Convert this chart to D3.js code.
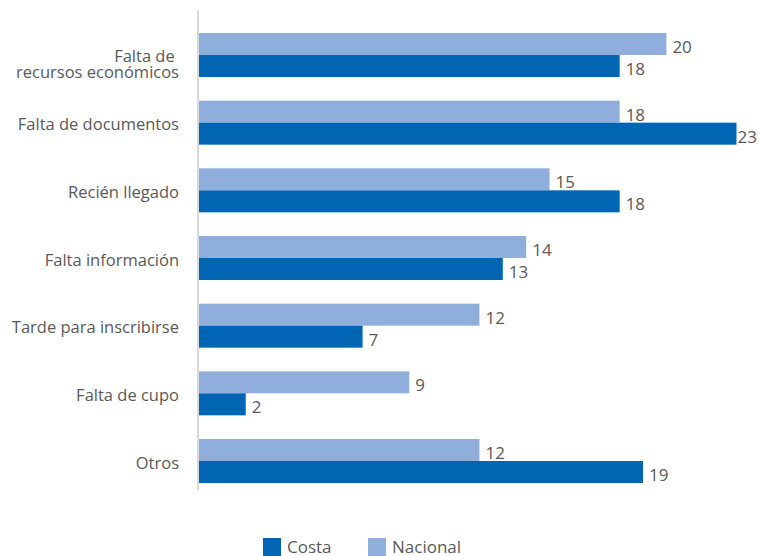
<!DOCTYPE html>
<html>
<head>
<meta charset="utf-8">
<script src="https://cdn.jsdelivr.net/npm/d3@7"></script>
<style>
  html, body { margin: 0; padding: 0; background: #ffffff; }
  svg { display: block; }
  text { font-family: "Open Sans", "Noto Sans", sans-serif; fill: #595959; }
</style>
</head>
<body>
<svg id="chart" width="761" height="556"></svg>
<script>
// Motivos de no inscripción (%), Costa vs Nacional
const categories = [
  ["Falta de ", "recursos económicos"],
  ["Falta de documentos"],
  ["Recién llegado"],
  ["Falta información"],
  ["Tarde para inscribirse"],
  ["Falta de cupo"],
  ["Otros"]
];
const nacional = [20, 18, 15, 14, 12, 9, 12];
const costa    = [18, 23, 18, 13, 7, 2, 19];
const seriesNames = ["Costa", "Nacional"];
const colors = { Costa: "#0066b3", Nacional: "#8faedb" };

const svg = d3.select("#chart");
const keys = categories.map((c, i) => i);

const x = d3.scaleLinear().domain([0, 23]).range([199, 736.5]);
const y = d3.scaleBand().domain(keys).range([33, 483]).paddingInner(0.35).paddingOuter(0);
const sub = d3.scaleBand().domain(["Nacional", "Costa"]).range([0, y.bandwidth()]);

const rows = keys.map(i => ({ i, Nacional: nacional[i], Costa: costa[i] }));

// bars with value labels
const groups = svg.append("g").selectAll("g.cat").data(rows).join("g")
  .attr("class", "cat")
  .attr("transform", d => `translate(0,${y(d.i)})`);

["Nacional", "Costa"].forEach(key => {
  groups.append("rect")
    .attr("x", x(0))
    .attr("y", sub(key))
    .attr("width", d => x(d[key]) - x(0))
    .attr("height", sub.bandwidth())
    .attr("fill", colors[key]);
  groups.append("text")
    .attr("y", sub(key) + sub.bandwidth() / 2 + 9)
    .attr("font-size", 17)
    .text(d => d[key])
    .attr("x", function(d) {
      const w = this.getComputedTextLength();
      return Math.min(x(d[key]) + 6, 757 - w);
    });
});

// vertical category axis line
svg.append("line")
  .attr("x1", x(0) - 1).attr("x2", x(0) - 1)
  .attr("y1", 10).attr("y2", 490)
  .attr("stroke", "#d9d9d9").attr("stroke-width", 2);

// category labels (first line sits at band centre, extra lines below)
const labels = svg.selectAll("text.cat").data(rows).join("text")
  .attr("class", "cat")
  .attr("text-anchor", "end")
  .attr("font-size", 16.5);
labels.each(function(d) {
  const lines = categories[d.i];
  const t = d3.select(this);
  const base = y(d.i) + y.bandwidth() / 2 + 7.5;
  lines.forEach((ln, k) => {
    t.append("tspan")
      .attr("x", 179)
      .attr("y", base + k * 15.5)
      .style("white-space", "pre")
      .text(ln);
  });
});

// legend
const legendX = [263, 368];
const lg = svg.selectAll("g.legend").data(seriesNames).join("g")
  .attr("class", "legend")
  .attr("transform", (d, i) => `translate(${legendX[i]},538)`);
lg.append("rect").attr("width", 18).attr("height", 18).attr("fill", d => colors[d]);
lg.append("text").attr("x", 24).attr("y", 14.5).attr("font-size", 17).text(d => d);
</script>
</body>
</html>
